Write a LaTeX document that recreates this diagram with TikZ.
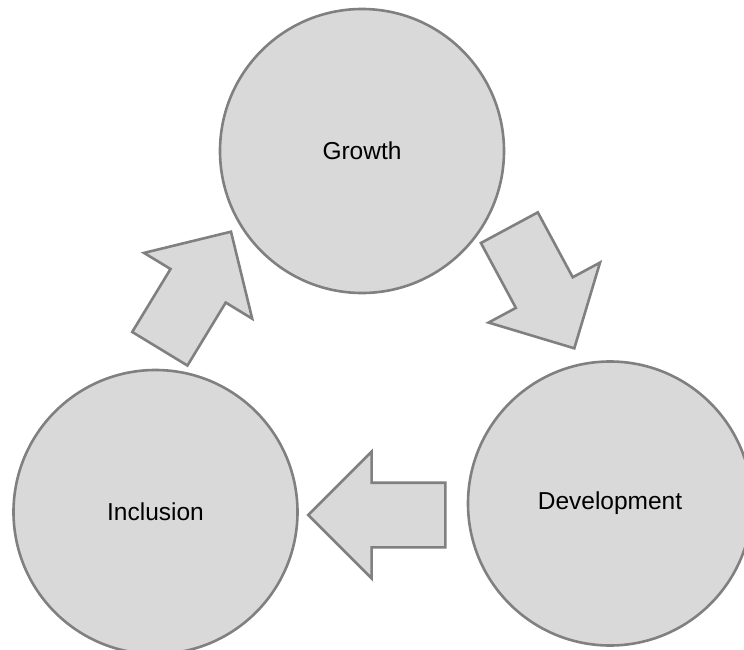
\documentclass[tikz,border=0pt]{standalone}
\usepackage{fontspec}
\setmainfont{Liberation Sans}
\usetikzlibrary{shapes.arrows,positioning}
\definecolor{cyclefill}{RGB}{217,217,217}
\definecolor{cycleline}{RGB}{128,128,128}
\tikzset{
  stage/.style={circle,draw=cycleline,fill=cyclefill,line width=2.6pt,
    minimum size=284pt,inner sep=0pt,font=\fontsize{24.5}{29}\selectfont},
  flow/.style={single arrow,draw=cycleline,fill=cyclefill,line width=2.6pt,
    minimum height=137pt,minimum width=124pt,single arrow head extend=31pt,
    inner xsep=0pt,inner ysep=31pt,outer sep=0pt,anchor=tip}
}

\begin{document}
\begin{tikzpicture}[x=1pt,y=-1pt]
   \useasboundingbox (0,0) rectangle (744,650);
   % the three stages
   \node[stage] (growth) at (362,151) {Growth};
   \node[stage] (devel) at (610,503.5) {Development};
   \node[stage] (incl) at (155.5,512) {Inclusion};
   % block arrows between them, placed by their tips
   \node[flow,rotate=58.7] (incl2growth) at (231,231.7) {};
   \node[flow,rotate=-61.7] (growth2devel) at (574.3,348.3) {};
   \node[flow,rotate=180] (devel2incl) at (308.3,515) {};
\end{tikzpicture}
\end{document}
